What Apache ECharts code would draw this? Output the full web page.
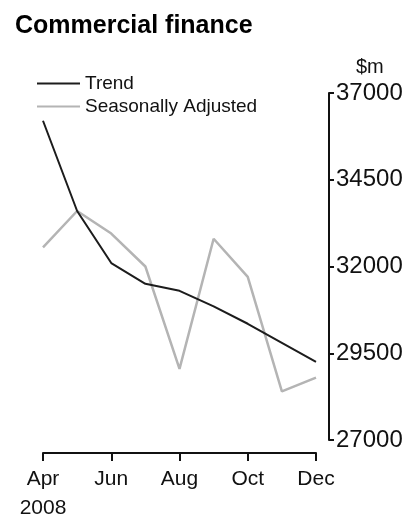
<!DOCTYPE html>
<html>
<head>
<meta charset="utf-8">
<script src="https://cdn.jsdelivr.net/npm/echarts@6/dist/echarts.min.js"></script>
<style>
  html, body { margin: 0; padding: 0; background: #fff; }
  #chart { width: 414px; height: 523px; }
</style>
</head>
<body>
<div id="chart"></div>
<script>
// Commercial finance, monthly, $m
const months = ['Apr', 'May', 'Jun', 'Jul', 'Aug', 'Sep', 'Oct', 'Nov', 'Dec'];
const year = '2008';
const trend = [36200, 33600, 32100, 31500, 31300, 30850, 30350, 29800, 29250];
const seasonallyAdjusted = [32550, 33600, 32950, 32000, 29050, 32800, 31700, 28400, 28800];
const yTicks = [27000, 29500, 32000, 34500, 37000];

const FONT = '"Liberation Sans", Arial, sans-serif';

const chart = echarts.init(document.getElementById('chart'), null, { renderer: 'canvas' });

chart.setOption({
  animation: false,
  backgroundColor: '#ffffff',
  title: {
    text: 'Commercial finance',
    left: 10,
    top: 9,
    textStyle: { fontFamily: FONT, fontSize: 25, fontWeight: 'bold', color: '#000' }
  },
  legend: {
    orient: 'vertical',
    left: 32,
    top: 69,
    itemWidth: 43,
    itemHeight: 2,
    itemGap: 4,
    icon: 'rect',
    textStyle: { fontFamily: FONT, fontSize: 19, color: '#111' },
    data: ['Trend', 'Seasonally Adjusted']
  },
  grid: { left: 43, right: 98, top: 93, bottom: 79, containLabel: false },
  xAxis: {
    type: 'category',
    data: months,
    boundaryGap: false,
    offset: 13,
    axisLine: { lineStyle: { color: '#111', width: 2 } },
    axisTick: { interval: 1, length: 8, lineStyle: { color: '#111', width: 2 } },
    axisLabel: {
      interval: 1,
      margin: 12,
      fontFamily: FONT,
      fontSize: 21,
      color: '#111',
      lineHeight: 29,
      formatter: (v, i) => (i === 0 ? v + '\n' + year : v)
    },
    splitLine: { show: false }
  },
  yAxis: {
    type: 'value',
    position: 'right',
    min: yTicks[0],
    max: yTicks[yTicks.length - 1],
    interval: yTicks[1] - yTicks[0],
    offset: 13,
    name: '$m',
    nameLocation: 'end',
    nameGap: 16,
    nameTextStyle: { fontFamily: FONT, fontSize: 20, color: '#111', align: 'left', padding: [0, 0, 0, 27] },
    axisLine: { show: true, lineStyle: { color: '#111', width: 2 } },
    axisTick: { show: true, inside: false, length: 5, lineStyle: { color: '#111', width: 2 } },
    axisLabel: {
      margin: 7,
      fontFamily: FONT,
      fontSize: 24,
      color: '#111',
      formatter: v => String(v)
    },
    splitLine: { show: false }
  },
  series: [
    {
      name: 'Trend',
      type: 'line',
      data: trend,
      symbol: 'none',
      color: '#1c1c1c',
      lineStyle: { color: '#1c1c1c', width: 2 }
    },
    {
      name: 'Seasonally Adjusted',
      type: 'line',
      data: seasonallyAdjusted,
      symbol: 'none',
      color: '#b4b4b4',
      lineStyle: { color: '#b4b4b4', width: 2.5 },
      z: 1
    }
  ]
});
</script>
</body>
</html>
